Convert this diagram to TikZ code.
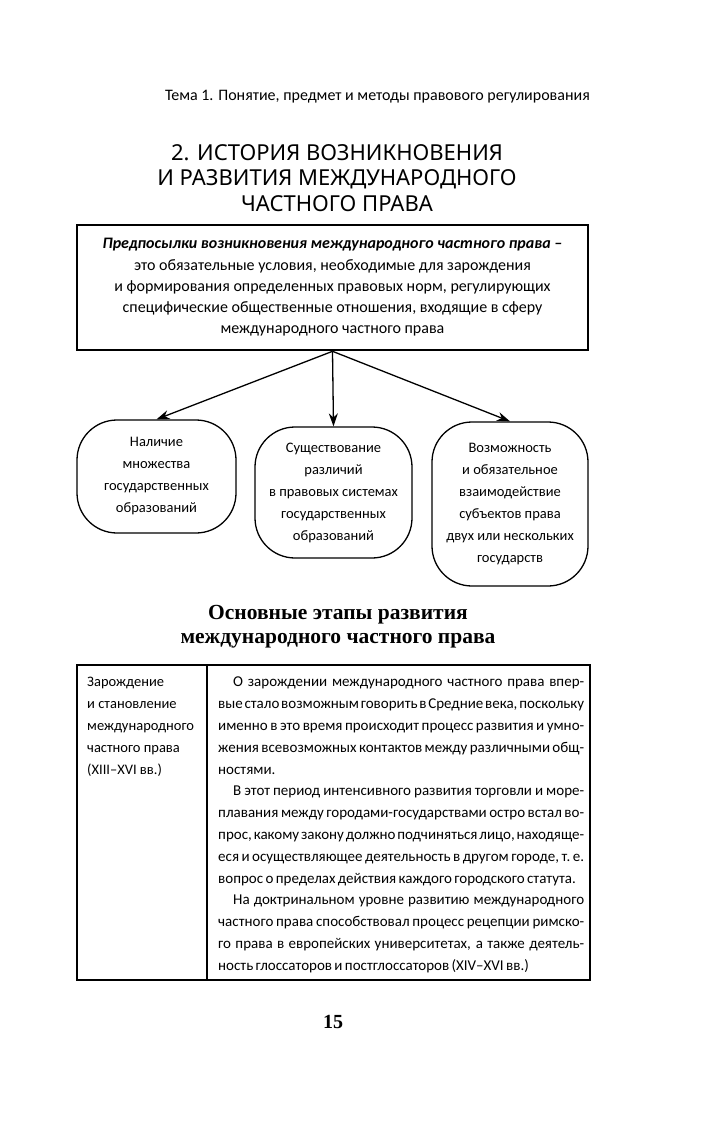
\documentclass[tikz,border=0pt]{standalone}
\usepackage{fontspec}
\setmainfont{Carlito}
\newfontfamily\tightfont{Carlito}[WordSpace=0.7]
\newfontfamily\titlefont{Noto Sans}
\newfontfamily\headfont{Liberation Serif}
\usetikzlibrary{arrows.meta,positioning}

\tikzset{
  txt/.style={inner sep=0pt,font=\fontsize{14.5}{22}\selectfont},
  defbox/.style={draw,line width=2.6pt,minimum width=511pt,minimum height=125pt,
    align=center,inner sep=0pt,font=\fontsize{16}{21.2}\selectfont},
  blob/.style={draw,line width=1.3pt,rounded corners=40pt,align=center,
    inner sep=0pt,font=\fontsize{14.5}{22}\selectfont},
  arr/.style={-{Stealth[length=13pt,width=9pt]},line width=1.3pt},
  tbl/.style={line width=1.8pt},
}

\begin{document}
\begin{tikzpicture}[x=1pt,y=-1pt]
  \useasboundingbox (0,0) rectangle (709,1122);
  % running head
  \node[inner sep=0pt,font=\fontsize{16}{20}\selectfont,anchor=east] (tema) at (590,97)
    {Тема 1. Понятие, предмет и методы правового регулирования};
  % title
  \node[align=center,inner sep=0pt,font=\titlefont\fontsize{22}{25.5}\selectfont]
    (title) at (337,178)
    {2. ИСТОРИЯ ВОЗНИКНОВЕНИЯ\\И РАЗВИТИЯ МЕЖДУНАРОДНОГО\\ЧАСТНОГО ПРАВА};
  % definition box
  \node[defbox] (def) at (332.5,287.5)
    {\textbf{\textit{Предпосылки возникновения международного частного права –}}\\
     это обязательные условия, необходимые для зарождения\\
     и формирования определенных правовых норм, регулирующих\\
     специфические общественные отношения, входящие в сферу\\
     международного частного права};
  % three prerequisites
  \node[blob,minimum width=159pt,minimum height=113pt] (nal) at (156.5,476.5)
    {Наличие\\множества\\государственных\\образований};
  \node[blob,minimum width=157pt,minimum height=131pt] (sush) at (333.5,492.5)
    {Существование\\различий\\в правовых системах\\государственных\\образований};
  \node[blob,minimum width=156pt,minimum height=164pt] (vozm) at (510,504)
    {Возможность\\и обязательное\\взаимодействие\\субъектов права\\двух или нескольких\\государств};
  \foreach \n in {nal,sush,vozm}
    \draw[arr] (def.south) -- (\n.north);
  % stages
  \node[align=center,inner sep=0pt,font=\headfont\bfseries\fontsize{21.5}{24}\selectfont]
    (etapy) at (338,627)
    {Основные этапы развития\\международного частного права};
  \draw[tbl] (77,665) rectangle (590,980);
  \draw[tbl] (207,665) -- (207,980);
  \node[txt,anchor=north west,text width=118pt,align=flush left] (stage) at (87,677)
    {Зарождение\\и становление\\международного\\частного права\\(XIII–XVI вв.)};
  \node[inner sep=0pt,font=\tightfont\fontsize{15}{21.8}\selectfont,
    anchor=north west,text width=366pt,align=justify] (descr) at (218,677)
    {\hspace*{15pt}О зарождении международного частного права впер-\linebreak
     вые стало возможным говорить в Средние века, поскольку\linebreak
     именно в это время происходит процесс развития и умно-\linebreak
     жения всевозможных контактов между различными общ-\linebreak
     ностями.\par
     \hspace*{15pt}В этот период интенсивного развития торговли и море-\linebreak
     плавания между городами-государствами остро встал во-\linebreak
     прос, какому закону должно подчиняться лицо, находяще-\linebreak
     еся и осуществляющее деятельность в другом городе, т.~е.\linebreak
     вопрос о пределах действия каждого городского статута.\par
     \hspace*{15pt}На доктринальном уровне развитию международного\linebreak
     частного права способствовал процесс рецепции римско-\linebreak
     го права в европейских университетах, а также деятель-\linebreak
     ность глоссаторов и постглоссаторов (XIV–XVI вв.)};
  % page number
  \node[inner sep=0pt,font=\headfont\bfseries\fontsize{20}{24}\selectfont] (page) at (333,1022) {15};
\end{tikzpicture}
\end{document}
